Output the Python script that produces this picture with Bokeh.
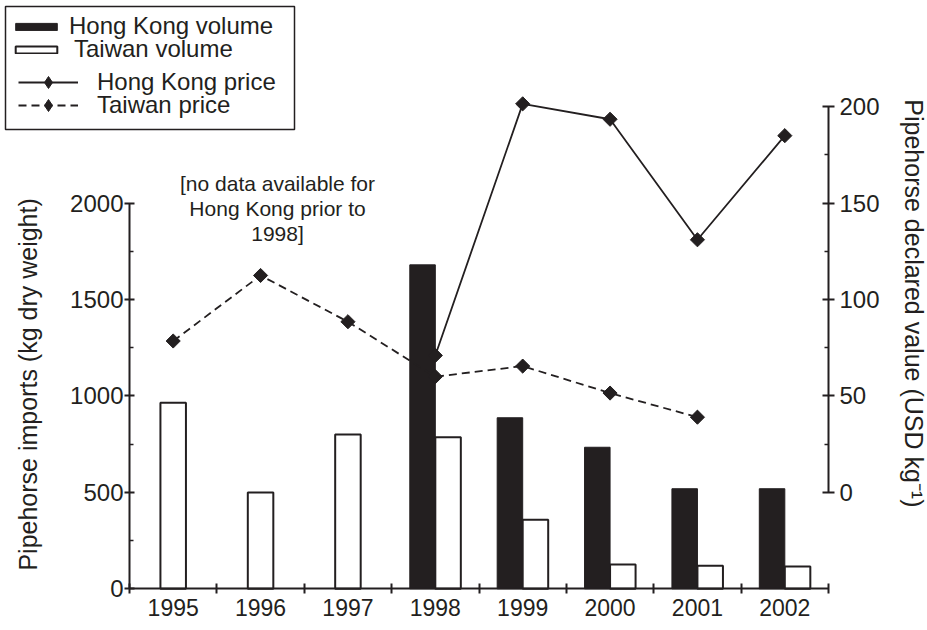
import numpy as np
from bokeh.plotting import figure
from bokeh.models import (Range1d, LinearAxis, FixedTicker, ColumnDataSource, Legend,
                          LegendItem, Label, BoxAnnotation)
from bokeh.embed import file_html
from bokeh.resources import INLINE

# ---------------- data ----------------
years = ["1995", "1996", "1997", "1998", "1999", "2000", "2001", "2002"]
hk_volume = [None, None, None, 1680, 887, 734, 519, 519]      # kg dry weight
tw_volume = [965, 500, 800, 786, 358, 126, 119, 116]           # kg dry weight
hk_price = [None, None, None, 71, 201.5, 193.5, 131, 185]      # USD per kg
tw_price = [78.5, 112.5, 88.5, 60, 65.5, 51.5, 39, None]       # USD per kg
left_ticks = [0, 500, 1000, 1500, 2000]
left_minor = [250, 750, 1250, 1750]
right_ticks = [0, 50, 100, 150, 200]
right_minor = [25, 75, 125, 175]
left_title = "Pipehorse imports (kg dry weight)"
right_title = "Pipehorse declared value (USD kg\u207b\u00b9)"
note_text = "[no data available for\nHong Kong prior to\n1998]"
legend_labels = ["Hong Kong volume", "Taiwan volume", "Hong Kong price", "Taiwan price"]

# ---------------- layout / style ----------------
INK = "#231f20"
FONT = "Liberation Sans"
W, H = 926, 629
PLOT_LEFT, SLOT_PX = 129, 87.375          # slot 0 starts here (px)
ZERO_Y, PX_PER_KG = 588.3, 0.19283        # kg axis: 0 at this px from top
PRICE_ZERO = 500      # right-axis 0 sits at left-axis 500
PRICE_FACTOR = 10     # 1 USD = 10 kg units
BAR_W = 0.292
n = len(years)

x_start = -PLOT_LEFT / SLOT_PX
x_end = (W - PLOT_LEFT) / SLOT_PX
y_start = -(H - ZERO_Y) / PX_PER_KG
y_end = ZERO_Y / PX_PER_KG

centre = {y: i + 0.5 for i, y in enumerate(years)}

hk_src = ColumnDataSource(dict(
    x=[centre[y] - BAR_W / 2 for y, v in zip(years, hk_volume) if v is not None],
    vol=[v for v in hk_volume if v is not None]))
tw_pair_src = ColumnDataSource(dict(
    x=[centre[y] + BAR_W / 2 for y, h in zip(years, hk_volume) if h is not None],
    vol=[v for h, v in zip(hk_volume, tw_volume) if h is not None]))
tw_solo_src = ColumnDataSource(dict(
    x=[centre[y] for y, h in zip(years, hk_volume) if h is None],
    vol=[v for h, v in zip(hk_volume, tw_volume) if h is None]))
hk_price_src = ColumnDataSource(dict(
    x=[centre[y] for y, v in zip(years, hk_price) if v is not None],
    price=[v for v in hk_price if v is not None]))
tw_price_src = ColumnDataSource(dict(
    x=[centre[y] for y, v in zip(years, tw_price) if v is not None],
    price=[v for v in tw_price if v is not None]))

p = figure(x_range=Range1d(x_start, x_end), y_range=Range1d(y_start, y_end),
           width=W, height=H,
           min_border_left=0, min_border_right=0, min_border_top=0, min_border_bottom=0,
           output_backend="svg", toolbar_location=None,
           x_axis_location=None, y_axis_location="left")
p.outline_line_color = None
p.background_fill_color = "white"
p.border_fill_color = "white"
p.grid.visible = False

p.extra_y_ranges = {"price": Range1d((y_start - PRICE_ZERO) / PRICE_FACTOR,
                                     (y_end - PRICE_ZERO) / PRICE_FACTOR)}


def style_axis(ax, label_size):
    ax.axis_line_color = INK
    ax.axis_line_width = 2
    ax.major_tick_line_color = INK
    ax.major_tick_line_width = 2
    ax.minor_tick_line_color = INK
    ax.minor_tick_line_width = 1.5
    ax.major_label_text_color = INK
    ax.major_label_text_font = FONT
    ax.major_label_text_font_size = label_size


# left axis (drawn at the start of the first slot)
ly = p.yaxis[0]
style_axis(ly, "24px")
ly.fixed_location = 0
ly.ticker = FixedTicker(ticks=left_ticks, minor_ticks=left_minor)
ly.bounds = (left_ticks[0], left_ticks[-1])
ly.major_tick_in = 5
ly.major_tick_out = 5
ly.minor_tick_in = 4
ly.minor_tick_out = 0
ly.major_label_standoff = 1

# right axis (drawn at the end of the last slot)
ry = LinearAxis(y_range_name="price", fixed_location=n)
style_axis(ry, "24px")
ry.ticker = FixedTicker(ticks=right_ticks, minor_ticks=right_minor)
ry.bounds = (right_ticks[0], right_ticks[-1])
ry.major_tick_in = 6
ry.major_tick_out = 6
ry.minor_tick_in = 4
ry.minor_tick_out = 0
ry.major_label_standoff = 5
p.add_layout(ry, "right")

# bottom axis: year labels at slot centres, tick marks at slot boundaries
xa = LinearAxis(fixed_location=0,
                ticker=FixedTicker(ticks=[centre[y] for y in years],
                                   minor_ticks=list(range(n + 1))))
style_axis(xa, "23px")
xa.bounds = (0, n)
xa.major_label_overrides = {centre[y]: y for y in years}
xa.major_tick_in = 0
xa.major_tick_out = 0
xa.minor_tick_in = 5
xa.minor_tick_out = 5
xa.minor_tick_line_width = 2
xa.major_label_standoff = 5
p.add_layout(xa, "below")

# axis titles
p.add_layout(Label(x=27, x_units="screen", y=1060, text=left_title, angle=np.pi / 2,
                   text_align="center", text_baseline="middle", text_font=FONT,
                   text_font_size="25px", text_color=INK))
p.add_layout(Label(x=913, x_units="screen", y=98, y_range_name="price", text=right_title,
                   angle=-np.pi / 2, text_align="center", text_baseline="middle",
                   text_font=FONT, text_font_size="25px", text_color=INK))

# bars
hk_bar = p.vbar(x="x", top="vol", width=BAR_W, source=hk_src,
                fill_color=INK, line_color=INK, line_width=1)
tw_bar = p.vbar(x="x", top="vol", width=BAR_W, source=tw_pair_src,
                fill_color="white", line_color=INK, line_width=2)
p.vbar(x="x", top="vol", width=BAR_W, source=tw_solo_src,
       fill_color="white", line_color=INK, line_width=2)

# price lines
hk_line = p.line(x="x", y="price", source=hk_price_src, y_range_name="price",
                 line_color=INK, line_width=1.8)
p.scatter(x="x", y="price", source=hk_price_src, y_range_name="price",
          marker="square", angle=np.pi / 4, size=10, fill_color=INK, line_color=INK)
tw_line = p.line(x="x", y="price", source=tw_price_src, y_range_name="price",
                 line_color=INK, line_width=1.8, line_dash="8 5")
p.scatter(x="x", y="price", source=tw_price_src, y_range_name="price",
          marker="square", angle=np.pi / 4, size=10, fill_color=INK, line_color=INK)
# legend-only diamond swatch (legend swatches ignore marker angle); its point is NaN so
# nothing is drawn in the plot itself
key_diamond = p.scatter(x="x", y="y",
                        source=ColumnDataSource(dict(x=np.array([np.nan]), y=np.array([np.nan]))),
                        marker="diamond", fill_color=INK, line_color=INK)

# note
p.add_layout(Label(x=1.694, y=2164, text=note_text,
                   text_align="center", text_baseline="top", text_font=FONT,
                   text_font_size="21px", text_color=INK, text_line_height=1.1))

# legend box + one legend per row
p.add_layout(BoxAnnotation(left=5, right=294, top=6, bottom=129,
                           left_units="canvas", right_units="canvas",
                           top_units="canvas", bottom_units="canvas",
                           fill_color="white", fill_alpha=1.0,
                           line_color=INK, line_width=1.5, line_alpha=1.0))

leg_common = dict(padding=0, margin=0, border_line_color=None,
                  background_fill_alpha=0, label_text_font=FONT,
                  label_text_font_size="24px", label_text_color=INK)
row_specs = [
    (legend_labels[0], [hk_bar], 10, 589, 52, 9, 7),
    (legend_labels[1], [tw_bar], 10, 566, 52, 9, 12),
    (legend_labels[2], [hk_line, key_diamond], 18, 532, 60, 30, 19),
    (legend_labels[3], [tw_line, key_diamond], 18, 509, 60, 30, 19),
]
for label, rends, vx, vy, gw, gh, stand in row_specs:
    p.add_layout(Legend(items=[LegendItem(label=label, renderers=rends)],
                        location=(vx, vy), glyph_width=gw, glyph_height=gh,
                        label_standoff=stand, **leg_common))

open("out.html", "w").write(file_html(p, INLINE))
